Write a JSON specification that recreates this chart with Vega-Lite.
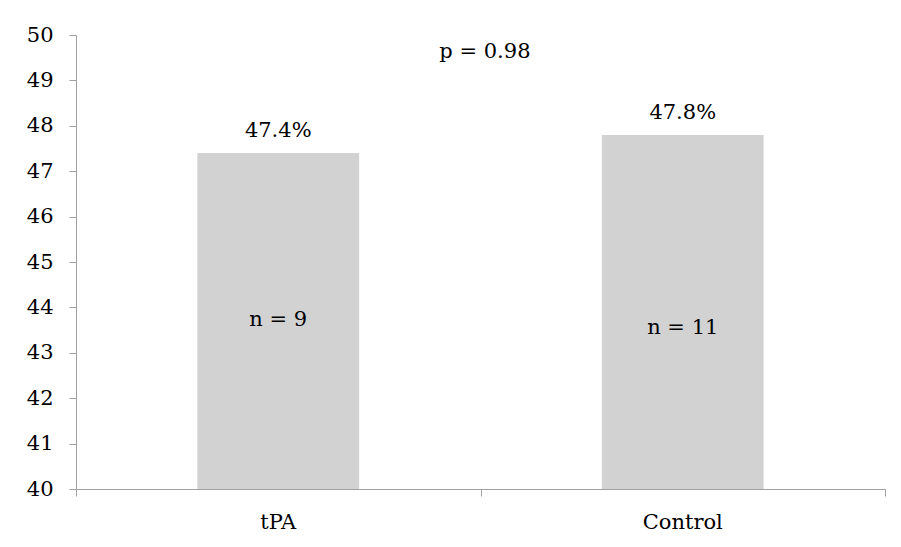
{
  "$schema": "https://vega.github.io/schema/vega-lite/v6.json",
  "autosize": "none",
  "width": 809,
  "height": 454,
  "padding": {"left": 76, "top": 35, "right": 16, "bottom": 58},
  "background": "white",
  "config": {
    "view": {"stroke": null},
    "font": "DejaVu Serif",
    "axis": {"labelFont": "DejaVu Serif", "labelFontSize": 21, "labelColor": "#000000", "domainColor": "#a0a0a0", "tickColor": "#a0a0a0", "tickSize": 7, "grid": false, "title": null}
  },
  "datasets": {
    "bars": [
      {"group": "tPA", "value": 47.4, "label": "47.4%", "nlabel": "n = 9", "ny": 43.6},
      {"group": "Control", "value": 47.8, "label": "47.8%", "nlabel": "n = 11", "ny": 43.41}
    ],
    "pval": [
      {"pos": 1.011, "y": 49.49, "text": "p = 0.98"}
    ]
  },
  "layer": [
    {
      "data": {"name": "bars"},
      "layer": [
        {
          "mark": {"type": "bar", "color": "#d2d2d2", "clip": true},
          "encoding": {
            "x": {
              "field": "group", "type": "nominal", "sort": ["tPA", "Control"],
              "scale": {"paddingInner": 0.6, "paddingOuter": 0.3},
              "axis": {
                "title": null, "labelAngle": 0, "ticks": false,
                "labelPadding": 22
              }
            },
            "y": {
              "field": "value", "type": "quantitative",
              "scale": {"domain": [40, 50], "zero": false, "nice": false},
              "axis": {
                "title": null, "values": [40,41,42,43,44,45,46,47,48,49,50],
                "labelOverlap": false, "labelPadding": 16
              }
            }
          }
        },
        {
          "mark": {"type": "text", "font": "DejaVu Serif", "fontSize": 21, "color": "#000000", "baseline": "alphabetic", "dy": -16},
          "encoding": {
            "x": {"field": "group", "type": "nominal", "sort": ["tPA", "Control"]},
            "y": {"field": "value", "type": "quantitative"},
            "text": {"field": "label"}
          }
        },
        {
          "mark": {"type": "text", "font": "DejaVu Serif", "fontSize": 21, "color": "#000000", "baseline": "alphabetic"},
          "encoding": {
            "x": {"field": "group", "type": "nominal", "sort": ["tPA", "Control"]},
            "y": {"field": "ny", "type": "quantitative"},
            "text": {"field": "nlabel"}
          }
        }
      ]
    },
    {
      "data": {"name": "pval"},
      "mark": {"type": "text", "font": "DejaVu Serif", "fontSize": 21, "color": "#000000", "baseline": "alphabetic"},
      "encoding": {
        "x": {
          "field": "pos", "type": "quantitative", "scale": {"domain": [0, 2]},
          "axis": {"orient": "bottom", "values": [0, 1, 2], "labels": false, "domain": false, "ticks": true, "tickSize": 7}
        },
        "y": {"field": "y", "type": "quantitative"},
        "text": {"field": "text"}
      }
    }
  ],
  "resolve": {"scale": {"x": "independent"}, "axis": {"x": "independent"}}
}
